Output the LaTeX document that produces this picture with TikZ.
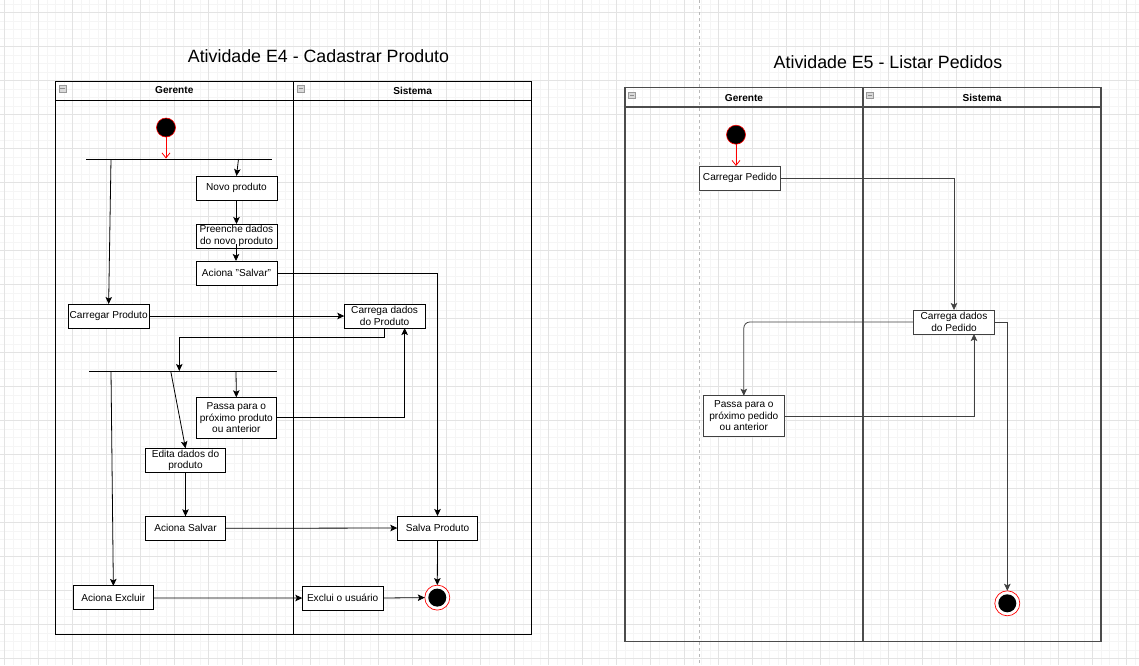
\documentclass[tikz,border=0pt]{standalone}
\usepackage{fontspec}
\setmainfont{Liberation Sans}
\usetikzlibrary{arrows.meta,calc}
\newcommand{\bxf}{\fontsize{10.1pt}{11.4pt}\selectfont}
\newcommand{\ttlf}{\fontsize{17.8pt}{20pt}\selectfont}
\begin{document}
\begin{tikzpicture}[x=1pt,y=-1pt,
  box/.style={draw=black, line width=0.9pt, fill=white, inner sep=0pt, outer sep=0pt, align=center, font=\bxf, minimum height=24pt, minimum width=80.7pt},
  boxg/.style={box, draw=black!75},
  arr/.style={draw=black, line width=0.8pt, -{Stealth[length=7pt,width=6.5pt,inset=1.5pt]}},
  arrg/.style={arr, draw=black!75},
  redarr/.style={draw=red, line width=0.8pt, -{Straight Barb[length=5pt,width=8pt]}},
  startn/.style={circle, fill=black, draw=red, line width=0.6pt, minimum size=19pt, inner sep=0pt, outer sep=0pt},
  endo/.style={circle, draw=red, fill=white, line width=0.7pt, minimum size=25pt, inner sep=0pt, outer sep=0pt},
  endi/.style={circle, fill=black, minimum size=18pt, inner sep=0pt},
  barn/.style={fill=black, inner sep=0pt, outer sep=0pt, minimum height=0.9pt},
  pool/.style={draw=black, line width=1pt},
  poolg/.style={draw=black!70, line width=1.15pt},
  hdr/.style={font=\bfseries\bxf},
  ttl/.style={font=\ttlf},
  icon/.style={draw=gray!80, fill=gray!30, minimum width=7pt, minimum height=6.5pt, inner sep=0pt},
  gminor/.style={draw=black!4, line width=0.6pt},
  gmajor/.style={draw=black!11, line width=0.7pt}
]
\useasboundingbox (0,0) rectangle (1139,665);
\fill[white] (0,0) rectangle (1139,665);
\begin{scope}
\clip (0,0) rectangle (1139,665);
\foreach \k in {0,...,134} \draw[gminor] ({4.3+8.5*\k},0) -- ++(0,665);
\foreach \k in {0,...,78} \draw[gminor] (0,{4.2+8.5*\k}) -- ++(1139,0);
\foreach \k in {0,...,33} \draw[gmajor] ({4.3+34*\k},0) -- ++(0,665);
\foreach \k in {0,...,19} \draw[gmajor] (0,{12.7+34*\k}) -- ++(1139,0);
\end{scope}
% page break
\draw[gray!55, line width=0.6pt, dash pattern=on 3pt off 3pt] (699.3,0) -- (699.3,665);

% ===== Left diagram =====
\node[ttl] (t1) at (318.5,56) {Atividade E4 - Cadastrar Produto};
\draw[pool] (55,81) rectangle (531.7,634.7);
\draw[pool] (55,100.3) -- (531.7,100.3);
\draw[pool] (293.7,81) -- (293.7,634.7);
\node[hdr] (h1) at (174.3,90.5) {Gerente};
\node[hdr] (h2) at (412.7,90.5) {Sistema};
\node[icon] (i1) at (62.5,88.5) {};
\draw[gray!90, line width=0.7pt] ($(i1.west)+(1.5,0)$) -- ($(i1.east)+(-1.5,0)$);
\node[icon] (i2) at (300.7,88.5) {};
\draw[gray!90, line width=0.7pt] ($(i2.west)+(1.5,0)$) -- ($(i2.east)+(-1.5,0)$);

\node[startn] (s1) at (166,127.5) {};
\node[barn, minimum width=186.6pt] (bar1) at (179,159) {};
\coordinate (b1a) at (111,159);
\coordinate (b1b) at (238.5,159);
\node[box, minimum width=81pt] (novo) at (236.5,188) {Novo produto};
\node[box, minimum width=81pt] (pre) at (236.5,236) {Preenche dados\\do novo produto};
\node[box, minimum width=81pt] (acs) at (236.5,273) {Aciona "Salvar"};
\node[box] (carr) at (108.65,316) {Carregar Produto};
\node[box] (cdp) at (384.65,316) {Carrega dados\\do Produto};
\node[barn, minimum width=187.4pt] (bar2) at (183,371) {};
\coordinate (b2a) at (111,371);
\coordinate (b2b) at (170.7,371);
\coordinate (b2c) at (179.3,371);
\coordinate (b2d) at (236,371);
\node[box, minimum height=40.7pt] (passa) at (236.35,417.65) {Passa para o\\próximo produto\\ou anterior};
\node[box, minimum width=80.4pt] (edita) at (185.5,460.3) {Edita dados do\\produto};
\node[box, minimum width=80.4pt] (acsal) at (185.5,528.3) {Aciona Salvar};
\node[box, minimum width=80.4pt] (salva) at (437.5,528) {Salva Produto};
\node[box] (excl) at (113.35,597.9) {Aciona Excluir};
\node[box] (exclu) at (342.65,598) {Exclui o usuário};
\node[endo] (e1) at (437.3,597.6) {};
\node[endi] at (e1) {};

\draw[redarr] (s1.south) -- (s1.south |- bar1.north);
\draw[arr] (b1b) -- (novo.north);
\draw[arr] (b1a) -- (carr.north);
\draw[arr] (novo.south) -- (pre.north);
\draw[arr] ($(pre.south)+(-0.5,-4)$) -- ($(acs.north)+(-0.5,0)$);
\draw[arr] (acs.east) -| (salva.north);
\draw[arr] (carr.east) -- (cdp.west);
\draw[arr] (cdp.south) -- ++(0,9.7) -| (b2c);
\draw[arr] (b2a) -- (excl.north);
\draw[arr] (b2b) -- (edita.north);
\draw[arr] (b2d) -- (passa.north);
\draw[arr] (passa.east) -| ($(cdp.south)+(20,0)$);
\draw[arr] (edita.south) -- (acsal.north);
\draw[arr] (acsal.east) -- (salva.west);
\draw[arr] (salva.south) -- (e1.north);
\draw[arr] (excl.east) -- (exclu.west);
\draw[arr] (exclu.east) -- (e1.west);

% ===== Right diagram =====
\node[ttl] (t2) at (888,62.5) {Atividade E5 - Listar Pedidos};
\draw[poolg] (625,87.7) rectangle (1101,641.7);
\draw[poolg] (625,107) -- (1101,107);
\draw[poolg] (863,87.7) -- (863,641.7);
\node[hdr] (h3) at (744,97.8) {Gerente};
\node[hdr] (h4) at (982,97.8) {Sistema};
\node[icon] (i3) at (632,95) {};
\draw[gray!90, line width=0.7pt] ($(i3.west)+(1.5,0)$) -- ($(i3.east)+(-1.5,0)$);
\node[icon] (i4) at (870,95) {};
\draw[gray!90, line width=0.7pt] ($(i4.west)+(1.5,0)$) -- ($(i4.east)+(-1.5,0)$);

\node[startn] (s2) at (736,134.7) {};
\node[boxg] (cp) at (740,178) {Carregar Pedido};
\node[boxg] (cdped) at (954,322) {Carrega dados\\do Pedido};
\node[boxg, minimum width=81pt, minimum height=40.3pt] (pp) at (743.8,415.9) {Passa para o\\próximo pedido\\ou anterior};
\node[endo] (e2) at (1007.3,603.3) {};
\node[endi] at (e2) {};

\draw[redarr] (s2.south) -- (s2.south |- cp.north);
\draw[arrg] (cp.east) -| (cdped.north);
\draw[arrg, rounded corners=6pt] (cdped.west) -| (pp.north);
\draw[arrg] (pp.east) -| ($(cdped.south)+(20,0)$);
\draw[arrg] (cdped.east) -| (e2.north);
\end{tikzpicture}
\end{document}
